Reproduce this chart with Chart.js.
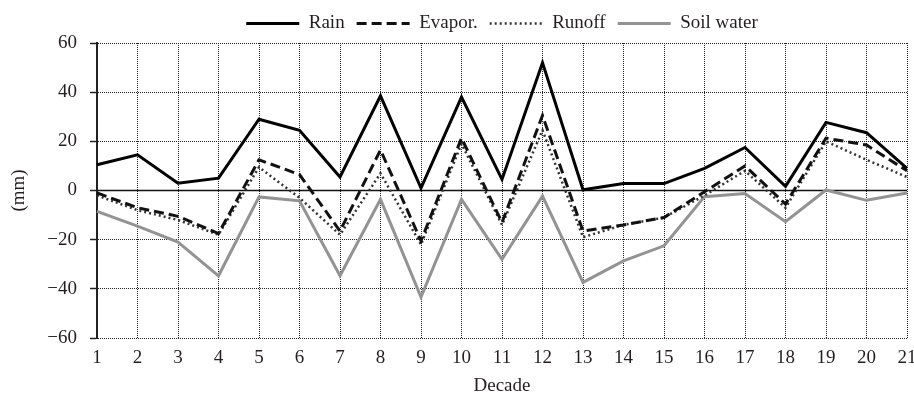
<!DOCTYPE html>
<html>
<head>
<meta charset="utf-8">
<script src="https://cdn.jsdelivr.net/npm/chart.js@4.4.1/dist/chart.umd.min.js"></script>
<style>
  html, body { margin: 0; padding: 0; background: #fff; }
  #wrap { width: 914px; height: 396px; position: relative; }
</style>
</head>
<body>
<div id="wrap"><canvas id="mygraph"></canvas></div>
<script>
// Values, in mm for each decade
const decades = ['1', '2', '3', '4', '5', '6', '7', '8', '9', '10', '11',
                 '12', '13', '14', '15', '16', '17', '18', '19', '20', '21'];
const rain = [10.5, 14.5, 3, 5, 29, 24.5, 5.5, 38.5, 1, 38, 4.5,
              52, 0.3, 2.8, 2.8, 9, 17.5, 1.7, 27.7, 23.5, 9];
const evapor = [-1, -7, -10.5, -17.5, 12.5, 6.5, -16.5, 16.5, -20.5, 21.3, -13,
                30.5, -16.5, -14, -11, -0.5, 10, -5.5, 21.3, 18.5, 8];
const runoff = [-2, -8, -12, -18, 9.5, -3, -18, 7, -22, 19, -14,
                24.5, -19, -14, -11, -2, 8, -7, 20, 12.5, 5.5];
const soil_water = [-8.5, -14.5, -21, -34.7, -2.6, -4.2, -34.7, -3.6, -43.4, -3.6, -28,
                    -2.3, -37.4, -28.6, -22.5, -2.5, -1.2, -12.7, 0.2, -4, -1];

const font_family = '"Liberation Serif", "DejaVu Serif", serif';
const font_size = 19;
const text_color = '#231f20';

// solid line through zero, drawn under the series
const zero_line = {
  id: 'zero_line',
  beforeDatasetsDraw(chart) {
    const ctx = chart.ctx;
    const area = chart.chartArea;
    const y = chart.scales.y.getPixelForValue(0);
    ctx.save();
    ctx.strokeStyle = '#111';
    ctx.lineWidth = 1.5;
    ctx.beginPath();
    ctx.moveTo(area.left, y);
    ctx.lineTo(area.right, y);
    ctx.stroke();
    ctx.restore();
  }
};

const graph = document.getElementById('mygraph');
new Chart(graph, {
  type: 'line',
  data: {
    labels: decades,
    datasets: [
      { label: 'Rain', data: rain, borderColor: '#000', borderWidth: 3 },
      { label: 'Evapor.', data: evapor, borderColor: '#111', borderWidth: 3, borderDash: [10, 5] },
      { label: 'Runoff', data: runoff, borderColor: '#333', borderWidth: 2.5, borderDash: [2, 3] },
      { label: 'Soil water', data: soil_water, borderColor: '#939393', borderWidth: 3 }
    ]
  },
  options: {
    responsive: true,
    maintainAspectRatio: false,
    animation: false,
    elements: { point: { radius: 0 }, line: { tension: 0, fill: false } },
    layout: { padding: { top: 2, left: 0, right: 0, bottom: 0 } },
    plugins: {
      tooltip: { enabled: false },
      legend: {
        position: 'top',
        fullSize: false,
        labels: {
          usePointStyle: true,
          pointStyleWidth: 53,
          padding: 12,
          color: text_color,
          font: { family: font_family, size: font_size },
          generateLabels: chart => chart.data.datasets.map((ds, i) => ({
            text: ds.label,
            strokeStyle: ds.borderColor,
            fillStyle: ds.borderColor,
            lineWidth: ds.borderWidth,
            lineDash: ds.borderDash || [],
            pointStyle: 'line',
            fontColor: text_color,
            hidden: false,
            datasetIndex: i
          }))
        }
      }
    },
    scales: {
      x: {
        afterFit: scale => { scale.height = 58; scale.paddingRight = 7; },
        grid: { color: '#222', lineWidth: 1, drawTicks: false },
        border: { display: false, dash: [1, 1] },
        ticks: { color: text_color, padding: 9, maxRotation: 0, autoSkip: false,
                 font: { family: font_family, size: font_size } },
        title: { display: true, text: 'Decade', color: text_color, padding: 0,
                 font: { family: font_family, size: font_size, lineHeight: 1 } }
      },
      y: {
        min: -60,
        max: 60,
        afterFit: scale => { scale.width = 97; },
        grid: { color: '#222', lineWidth: 1, drawTicks: true, tickLength: 7,
                tickColor: '#222', tickWidth: 1.5, tickBorderDash: [] },
        border: { display: true, color: '#222', width: 2, dash: [1, 1] },
        ticks: {
          stepSize: 20,
          padding: 13,
          color: text_color,
          font: { family: font_family, size: font_size },
          callback: v => (v < 0 ? '\u2212' + Math.abs(v) : String(v))
        },
        title: { display: true, text: '(mm)', color: text_color, padding: { top: 8 },
                 font: { family: font_family, size: font_size } }
      }
    }
  },
  plugins: [zero_line]
});
</script>
</body>
</html>
